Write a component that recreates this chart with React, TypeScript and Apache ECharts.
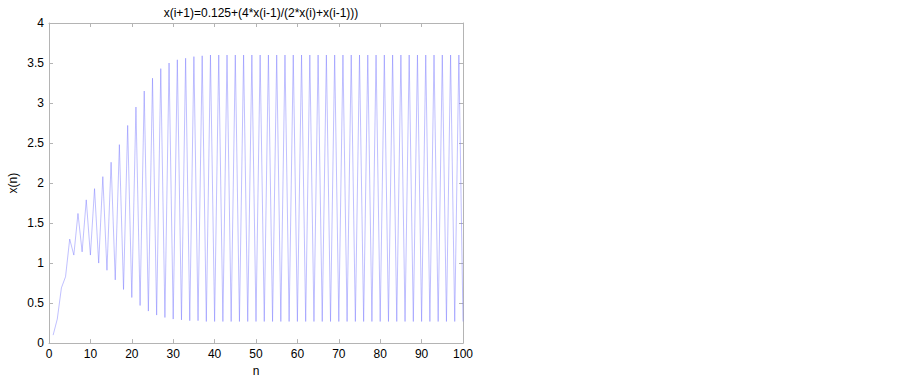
import React, { useEffect, useRef } from "react";
import * as echarts from "echarts";

const titleText = "x(i+1)=0.125+(4*x(i-1)/(2*x(i)+x(i-1)))";
const xName = "n";
const yName = "x(n)";

// n = 1..100
const nValues: number[] = [
  1, 2, 3, 4, 5, 6, 7, 8, 9, 10, 11, 12, 13, 14, 15, 16, 17, 18, 19, 20,
  21, 22, 23, 24, 25, 26, 27, 28, 29, 30, 31, 32, 33, 34, 35, 36, 37, 38, 39, 40,
  41, 42, 43, 44, 45, 46, 47, 48, 49, 50, 51, 52, 53, 54, 55, 56, 57, 58, 59, 60,
  61, 62, 63, 64, 65, 66, 67, 68, 69, 70, 71, 72, 73, 74, 75, 76, 77, 78, 79, 80,
  81, 82, 83, 84, 85, 86, 87, 88, 89, 90, 91, 92, 93, 94, 95, 96, 97, 98, 99, 100,
];

const xValues: number[] = [
  0.1, 0.3, 0.69, 0.83, 1.3, 1.1, 1.62, 1.14, 1.79, 1.1,
  1.93, 1.0, 2.08, 0.91, 2.26, 0.79, 2.48, 0.67, 2.72, 0.57,
  2.95, 0.47, 3.15, 0.4, 3.31, 0.35, 3.43, 0.32, 3.5, 0.3,
  3.54, 0.29, 3.56, 0.28, 3.58, 0.28, 3.59, 0.27, 3.6, 0.27,
  3.6, 0.27, 3.6, 0.27, 3.6, 0.27, 3.6, 0.27, 3.6, 0.27,
  3.6, 0.27, 3.6, 0.27, 3.6, 0.27, 3.6, 0.27, 3.6, 0.27,
  3.6, 0.27, 3.6, 0.27, 3.6, 0.27, 3.6, 0.27, 3.6, 0.27,
  3.6, 0.27, 3.6, 0.27, 3.6, 0.27, 3.6, 0.27, 3.6, 0.27,
  3.6, 0.27, 3.6, 0.27, 3.6, 0.27, 3.6, 0.27, 3.6, 0.27,
  3.6, 0.27, 3.6, 0.27, 3.6, 0.27, 3.6, 0.27, 3.6, 0.27,
];

const FONT = "'Liberation Sans', Arial, sans-serif";
const AXIS_COLOR = "#b4b4b4";

export default function App() {
  const ref = useRef<HTMLDivElement>(null);
  useEffect(() => {
    if (!ref.current) return;
    const chart = echarts.init(ref.current, undefined, { renderer: "svg" });
    const data = nValues.map((n, i) => [n, xValues[i]]);
    const axisCommon = {
      axisLine: { show: true, onZero: false, lineStyle: { color: AXIS_COLOR, width: 1 } },
      axisTick: { show: true, inside: true, length: 4, lineStyle: { color: AXIS_COLOR } },
      splitLine: { show: false },
    };
    chart.setOption({
      animation: false,
      backgroundColor: "#ffffff",
      title: {
        text: titleText,
        left: 256,
        textAlign: "center",
        top: 2,
        textStyle: { fontFamily: FONT, fontSize: 12, fontWeight: "normal", color: "#000" },
      },
      grid: { left: 49, top: 23, width: 414, height: 325, containLabel: false },
      xAxis: [
        {
          type: "value",
          min: 0,
          max: 100,
          interval: 10,
          position: "bottom",
          name: xName,
          nameLocation: "middle",
          nameGap: 21,
          nameTextStyle: { fontFamily: FONT, fontSize: 12, color: "#000" },
          axisLabel: { fontFamily: FONT, fontSize: 12, color: "#000", margin: 5 },
          ...axisCommon,
        },
        {
          type: "value",
          min: 0,
          max: 100,
          interval: 10,
          position: "top",
          axisLabel: { show: false },
          ...axisCommon,
        },
      ],
      yAxis: [
        {
          type: "value",
          min: 0,
          max: 4,
          interval: 0.5,
          position: "left",
          name: yName,
          nameLocation: "middle",
          nameGap: 30,
          nameTextStyle: { fontFamily: FONT, fontSize: 12, color: "#000" },
          axisLabel: { fontFamily: FONT, fontSize: 12, color: "#000", margin: 5 },
          ...axisCommon,
        },
        {
          type: "value",
          min: 0,
          max: 4,
          interval: 0.5,
          position: "right",
          axisLabel: { show: false },
          ...axisCommon,
        },
      ],
      series: [
        {
          type: "line",
          data,
          xAxisIndex: 0,
          yAxisIndex: 0,
          showSymbol: false,
          symbol: "none",
          lineStyle: { color: "#7a7aff", width: 0.8, opacity: 0.6 },
        },
      ],
    });
    return () => chart.dispose();
  }, []);
  return (
    <div
      ref={ref}
      style={{ position: "absolute", left: 0, top: 0, width: 903, height: 382, background: "#fff" }}
    />
  );
}
